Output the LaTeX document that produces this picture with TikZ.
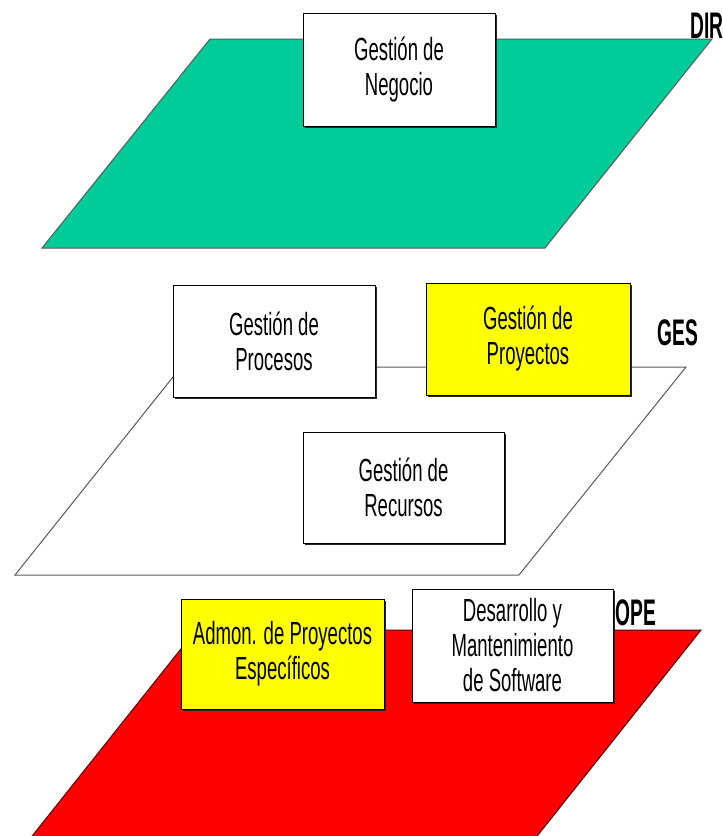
\documentclass[tikz,border=0pt]{standalone}
\usepackage{fontspec}
\setmainfont{Liberation Sans}[FakeStretch=0.58]
\newfontfamily\labfont{Liberation Sans}[FakeStretch=0.52]
\usetikzlibrary{shadows}
\definecolor{dirgreen}{RGB}{0,204,153}
\definecolor{opered}{RGB}{255,0,0}
\definecolor{boxyellow}{RGB}{255,255,0}
\definecolor{edgegray}{RGB}{90,90,90}
\tikzset{
  plane/.style={draw=edgegray, line width=1pt, line join=miter},
  unitbox/.style={rectangle, draw=black, line width=1pt, fill=white, align=center,
    inner sep=0pt, font=\fontsize{32}{35}\selectfont,
    drop shadow={shadow xshift=2.2pt, shadow yshift=-2.2pt, fill=black!85, opacity=1}},
  levellabel/.style={inner sep=0pt, font=\labfont\bfseries\fontsize{37}{37}\selectfont}
}
\begin{document}
\begin{tikzpicture}[x=1pt,y=-1pt]
\useasboundingbox (0,0) rectangle (723,836);
\clip (0,0) rectangle (723,836);
% DIR level
\draw[plane, fill=dirgreen] (210,39) -- (712,39) -- (545,248) -- (42,248) -- cycle;
\node[unitbox, minimum width=192pt, minimum height=113pt] (neg) at (399,69.5) {Gestión de\\Negocio};
\node[levellabel, anchor=base east] (dir) at (724,38) {DIR};
% GES level
\draw[plane, fill=white] (181,367) -- (686,367) -- (519,575) -- (15,575) -- cycle;
\node[unitbox, minimum width=202pt, minimum height=112pt] (proc) at (274,341) {Gestión de\\Procesos};
\node[unitbox, fill=boxyellow, minimum width=204pt, minimum height=112pt] (proy) at (528,339) {Gestión de\\Proyectos};
\node[unitbox, minimum width=201pt, minimum height=111pt] (rec) at (403.5,487.5) {Gestión de\\Recursos};
\node[levellabel, anchor=base west] (ges) at (657,345) {GES};
% OPE level
\draw[plane, draw=black!70!red, fill=opered] (196,630) -- (701,630) -- (530,845) -- (25,845) -- cycle;
\node[unitbox, fill=boxyellow, minimum width=203pt, minimum height=110pt] (admon) at (282.5,654) {Admon. de Proyectos\\Específicos};
\node[unitbox, minimum width=201pt, minimum height=113pt] (desa) at (512.5,645.5) {Desarrollo y\\Mantenimiento\\de Software};
\node[levellabel, anchor=base west] (ope) at (615,625) {OPE};
\end{tikzpicture}
\end{document}
